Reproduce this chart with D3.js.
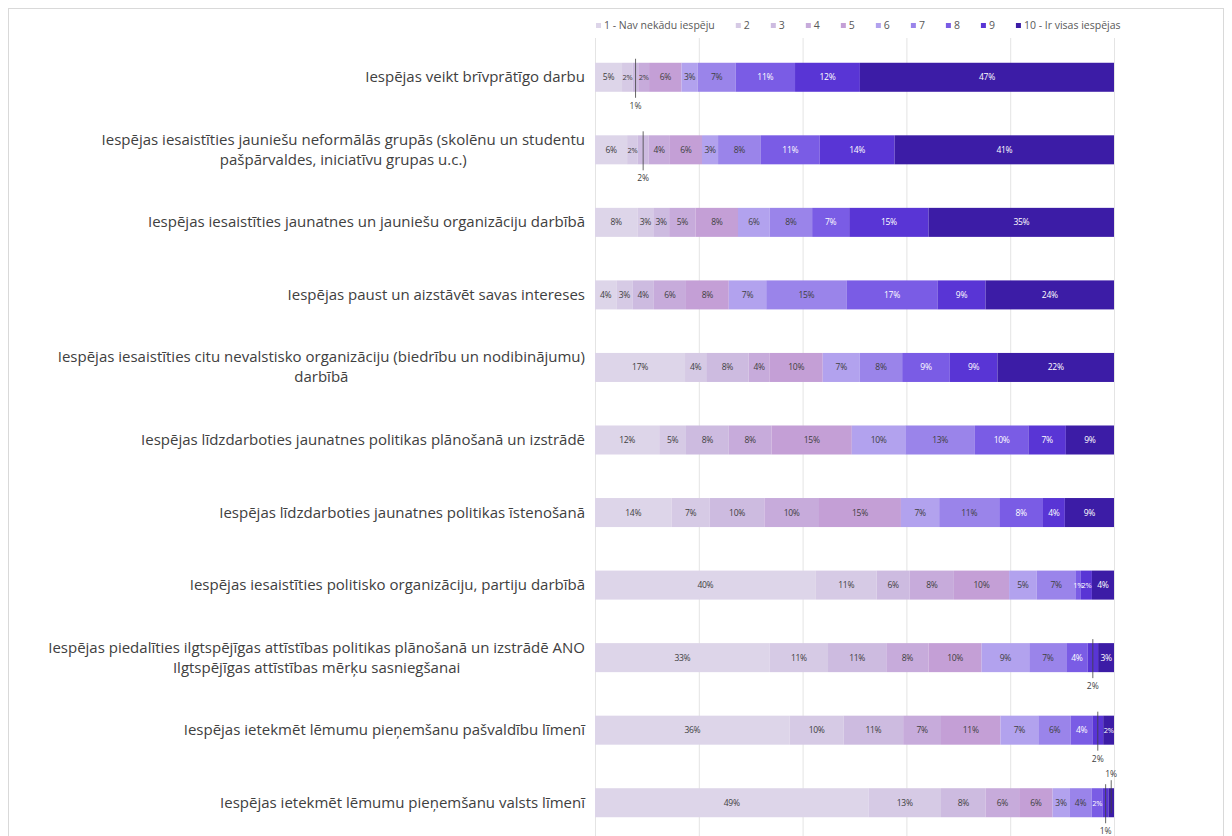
<!DOCTYPE html>
<html>
<head>
<meta charset="utf-8">
<script src="https://cdn.jsdelivr.net/npm/d3@7"></script>
<style>
  body { margin: 0; background: #fff; }
  text { font-family: "Open Sans", "Noto Sans", sans-serif; }
</style>
</head>
<body>
<script>
// rows of the chart, top to bottom. "\n" = line break in the label
var categories = [
  "Iespējas veikt brīvprātīgo darbu",
  "Iespējas iesaistīties jauniešu neformālās grupās (skolēnu un studentu\npašpārvaldes, iniciatīvu grupas u.c.)",
  "Iespējas iesaistīties jaunatnes un jauniešu organizāciju darbībā",
  "Iespējas paust un aizstāvēt savas intereses",
  "Iespējas iesaistīties citu nevalstisko organizāciju (biedrību un nodibinājumu)\ndarbībā",
  "Iespējas līdzdarboties jaunatnes politikas plānošanā un izstrādē",
  "Iespējas līdzdarboties jaunatnes politikas īstenošanā",
  "Iespējas iesaistīties politisko organizāciju, partiju darbībā",
  "Iespējas piedalīties ilgtspējīgas attīstības politikas plānošanā un izstrādē ANO\nIlgtspējīgas attīstības mērķu sasniegšanai",
  "Iespējas ietekmēt lēmumu pieņemšanu pašvaldību līmenī",
  "Iespējas ietekmēt lēmumu pieņemšanu valsts līmenī"
];

var seriesNames = ["1 - Nav nekādu iespēju", "2", "3", "4", "5", "6", "7", "8", "9", "10 - Ir visas iespējas"];

// percent per row, series 1..10
var values = [
  [5, 2, 1, 2, 6, 3, 7, 11, 12, 47],
  [6, 2, 2, 4, 6, 3, 8, 11, 14, 41],
  [8, 3, 3, 5, 8, 6, 8, 7, 15, 35],
  [4, 3, 4, 6, 8, 7, 15, 17, 9, 24],
  [17, 4, 8, 4, 10, 7, 8, 9, 9, 22],
  [12, 5, 8, 8, 15, 10, 13, 10, 7, 9],
  [14, 7, 10, 10, 15, 7, 11, 8, 4, 9],
  [40, 11, 6, 8, 10, 5, 7, 1, 2, 4],
  [33, 11, 11, 8, 10, 9, 7, 4, 2, 3],
  [36, 10, 11, 7, 11, 7, 6, 4, 2, 2],
  [49, 13, 8, 6, 6, 3, 4, 2, 1, 1]
];

// small segments whose label sits outside the bar
var callouts = [
  {row: 0, s: 2, side: "below"},
  {row: 1, s: 2, side: "below"},
  {row: 8, s: 8, side: "below"},
  {row: 9, s: 8, side: "below"},
  {row: 10, s: 8, side: "below"},
  {row: 10, s: 9, side: "above"}
];

var colors = ["#ddd5e9", "#d6cae5", "#cdbbe0", "#c7abdb", "#c49fd6", "#b2a2ee", "#9a84ea", "#7a5ce5", "#5935d5", "#3c1ca6"];

var gridTicks = [0, 0.2, 0.4, 0.6, 0.8, 1];

var W = 1232, H = 836;
var margin = {top: 41, left: 595, right: 118};
var width = W - margin.left - margin.right;

var svg = d3.select("body").append("svg")
    .attr("width", W)
    .attr("height", H);

// chart frame
svg.append("rect")
    .attr("x", 8.5).attr("y", 8.5)
    .attr("width", W - 17).attr("height", H)
    .attr("fill", "none")
    .attr("stroke", "#d9d9d9");

var x = d3.scaleLinear().domain([0, 1]).range([margin.left, margin.left + width]);
var y = d3.scaleBand()
    .domain(d3.range(categories.length))
    .range([margin.top, 839])
    .paddingInner(0.6)
    .paddingOuter(0.3);

// gridlines
var grid = svg.append("g")
    .attr("transform", "translate(0," + H + ")")
    .call(d3.axisBottom(x).tickValues(gridTicks).tickSize(-(H - 38)).tickFormat(""));
grid.select(".domain").remove();
grid.selectAll("line").attr("stroke", "#e4e4e4");

// stack the rows (normalised, 100% stacked)
var rows = values.map(function(v, i) {
  var tot = d3.sum(v), acc = 0;
  return v.map(function(d, s) {
    var seg = {row: i, s: s, v: d, x0: acc / tot, x1: (acc + d) / tot};
    acc += d;
    return seg;
  });
});
var segs = d3.merge(rows);

var isCallout = function(d) {
  return callouts.some(function(c) { return c.row === d.row && c.s === d.s; });
};

svg.append("g").selectAll("rect")
  .data(segs)
  .enter().append("rect")
    .attr("x", function(d) { return x(d.x0); })
    .attr("y", function(d) { return y(d.row); })
    .attr("width", function(d) { return x(d.x1) - x(d.x0); })
    .attr("height", y.bandwidth())
    .attr("fill", function(d) { return colors[d.s]; });

// value labels
svg.append("g").selectAll("text")
  .data(segs.filter(function(d) { return !isCallout(d); }))
  .enter().append("text")
    .attr("x", function(d) { return (x(d.x0) + x(d.x1)) / 2; })
    .attr("y", function(d) { return y(d.row) + y.bandwidth() / 2 + 3; })
    .attr("text-anchor", "middle")
    .attr("font-size", function(d) { return d.v < 3 ? "7.5px" : "8.5px"; })
    .attr("letter-spacing", "-0.3px")
    .attr("fill", function(d) { return d.s >= 7 ? "#ffffff" : "#404040"; })
    .text(function(d) { return d.v + "%"; });

// callouts with leader lines
var cg = svg.append("g");
callouts.forEach(function(c) {
  var d = rows[c.row][c.s];
  var cx = (x(d.x0) + x(d.x1)) / 2;
  var top = y(c.row), bot = top + y.bandwidth();
  var y1, y2, ty;
  if (c.side === "below") {
    y1 = top - 4; y2 = bot + 6; ty = bot + 17;
  } else {
    y1 = bot - 4; y2 = top - 8; ty = top - 11;
  }
  cg.append("line")
    .attr("x1", cx).attr("x2", cx)
    .attr("y1", y1).attr("y2", y2)
    .attr("stroke", "#404040").attr("stroke-width", 0.8);
  cg.append("text")
    .attr("x", cx).attr("y", ty)
    .attr("text-anchor", "middle")
    .attr("font-size", "8.5px")
    .attr("fill", "#404040")
    .text(d.v + "%");
});

// category labels, lines centred inside a right aligned block
var labelRight = 585;
categories.forEach(function(c, i) {
  var lines = c.split("\n");
  var g = svg.append("g");
  var cy = y(i) + y.bandwidth() / 2;
  var lh = 20;
  var ts = lines.map(function(l, k) {
    return g.append("text")
      .attr("y", cy + (k - (lines.length - 1) / 2) * lh + 5)
      .attr("font-size", "15px")
      .attr("fill", "#404040")
      .attr("text-anchor", "middle")
      .text(l);
  });
  var maxW = d3.max(ts, function(t) { return t.node().getComputedTextLength(); });
  ts.forEach(function(t) { t.attr("x", labelRight - maxW / 2); });
});

// legend
var lg = svg.append("g").attr("transform", "translate(596,27)");
var lx = 0;
seriesNames.forEach(function(n, i) {
  lg.append("rect")
    .attr("x", lx).attr("y", -4)
    .attr("width", 5).attr("height", 5)
    .attr("fill", colors[i]);
  var t = lg.append("text")
    .attr("x", lx + 8).attr("y", 1.5)
    .attr("font-size", "10.5px")
    .attr("fill", "#595959")
    .text(n);
  lx += 8 + t.node().getComputedTextLength() + 21;
});
</script>
</body>
</html>
